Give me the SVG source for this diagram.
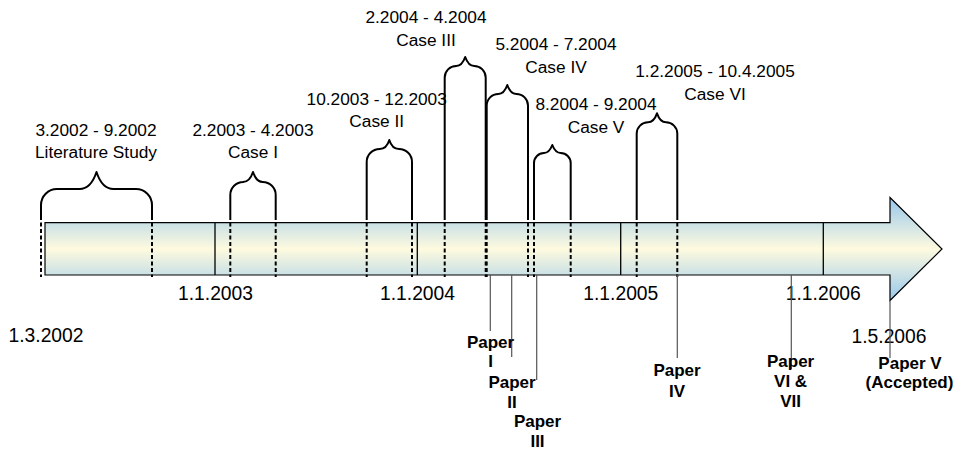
<svg xmlns="http://www.w3.org/2000/svg" width="958" height="449" viewBox="0 0 958 449">
  <defs>
    <linearGradient id="axisFill" x1="0" y1="0" x2="0" y2="1">
      <stop offset="0" stop-color="#98c8ec"/>
      <stop offset="0.5" stop-color="#fefadf"/>
      <stop offset="1" stop-color="#98c8ec"/>
    </linearGradient>
  </defs>
  <style>
    .label { font-family: "Liberation Sans", Arial, sans-serif; font-size: 17.3px; fill: #000; text-anchor: middle; }
    .date { font-family: "Liberation Sans", Arial, sans-serif; font-size: 19.3px; fill: #000; text-anchor: middle; }
    .paper { font-family: "Liberation Sans", Arial, sans-serif; font-size: 17px; font-weight: bold; fill: #000; text-anchor: middle; }
    .brace { fill: none; stroke: #000; stroke-width: 2; stroke-linejoin: round; }
    .span { stroke: #000; stroke-width: 2; stroke-dasharray: 4 2.5; }
    .year { stroke: #000; stroke-width: 1.3; }
    .leader { stroke: #555; stroke-width: 1.2; }
  </style>

  <!-- time axis: block arrow -->
  <g id="axis">
    <path d="M45,222.7 H890 V197.5 L942,249 L890,300.5 V275 H45 Z" fill="url(#axisFill)" stroke="#000" stroke-width="1.2" stroke-linejoin="miter"/>
  </g>

  <!-- year boundaries -->
  <g id="year-2003">
    <line class="year" x1="215" y1="222.7" x2="215" y2="275"/>
    <text class="date" x="215.5" y="300">1.1.2003</text>
  </g>
  <g id="year-2004">
    <line class="year" x1="417.3" y1="222.7" x2="417.3" y2="275"/>
    <text class="date" x="417.5" y="300">1.1.2004</text>
  </g>
  <g id="year-2005">
    <line class="year" x1="620.7" y1="222.7" x2="620.7" y2="275"/>
    <text class="date" x="620.8" y="300">1.1.2005</text>
  </g>
  <g id="year-2006">
    <line class="year" x1="823.3" y1="222.7" x2="823.3" y2="275"/>
    <text class="date" x="823.3" y="300">1.1.2006</text>
  </g>
  <g id="start-date">
    <text class="date" x="46" y="342">1.3.2002</text>
  </g>
  <g id="end-date">
    <text class="date" x="889" y="343">1.5.2006</text>
  </g>

  <!-- study periods: brace over the axis, dashed limits through it -->
  <g id="literature-study">
    <path class="brace" d="M41,216 V205 A16,16 0 0 1 57,189 H79.5 C88.9,189 94,179.6 96.5,172 C99,179.6 104.1,189 113.5,189 H136 A16,16 0 0 1 152,205 V216"/>
    <line class="span" x1="41" y1="216" x2="41" y2="277"/>
    <line class="span" x1="152" y1="216" x2="152" y2="277"/>
    <text class="label" x="96" y="136">3.2002 - 9.2002</text>
    <text class="label" x="96" y="158.3">Literature Study</text>
  </g>

  <g id="case-1">
    <path class="brace" d="M230.3,216 V195 A13,13 0 0 1 243.3,182 H243 C248.5,182 251.5,176.5 253,172 C254.5,176.5 257.5,182 262.7,182 A13,13 0 0 1 275.7,195 V216"/>
    <line class="span" x1="230.3" y1="216" x2="230.3" y2="277"/>
    <line class="span" x1="275.7" y1="216" x2="275.7" y2="277"/>
    <text class="label" x="253" y="136">2.2003 - 4.2003</text>
    <text class="label" x="253" y="158.3">Case I</text>
  </g>

  <g id="case-2">
    <path class="brace" d="M366.7,216 V162 A13,13 0 0 1 379.7,149 C385,149 388,144.3 389.3,140 C390.6,144.3 393.6,149 399,149 A13,13 0 0 1 412,162 V216"/>
    <line class="span" x1="366.7" y1="216" x2="366.7" y2="277"/>
    <line class="span" x1="412" y1="216" x2="412" y2="277"/>
    <text class="label" x="376.7" y="105.3">10.2003 - 12.2003</text>
    <text class="label" x="376.7" y="127.3">Case II</text>
  </g>

  <g id="case-3">
    <path class="brace" d="M444.7,216 V77.5 A11.5,11.5 0 0 1 456.2,66 C461,66 463.8,61 465.2,57 C466.6,61 469.4,66 474.2,66 A11.5,11.5 0 0 1 485.7,77.5 V216"/>
    <line class="span" x1="444.7" y1="216" x2="444.7" y2="277"/>
    <line class="span" x1="485.7" y1="216" x2="485.7" y2="277"/>
    <text class="label" x="426" y="23.3">2.2004 - 4.2004</text>
    <text class="label" x="426" y="45.7">Case III</text>
  </g>

  <g id="case-4">
    <path class="brace" d="M486.7,216 V105.6 A11.6,11.6 0 0 1 498.3,94 C503.1,94 505.9,89 507.3,85 C508.7,89 511.5,94 516.4,94 A11.6,11.6 0 0 1 528,105.6 V216"/>
    <line class="span" x1="486.7" y1="216" x2="486.7" y2="277"/>
    <line class="span" x1="528" y1="216" x2="528" y2="277"/>
    <text class="label" x="556" y="50">5.2004 - 7.2004</text>
    <text class="label" x="556" y="73.3">Case IV</text>
  </g>

  <g id="case-5">
    <path class="brace" d="M534,216 V163 A10,10 0 0 1 544,153 C548.3,153 550.9,148.6 552.3,145 C553.7,148.6 556.3,153 560.7,153 A10,10 0 0 1 570.7,163 V216"/>
    <line class="span" x1="534" y1="216" x2="534" y2="277"/>
    <line class="span" x1="570.7" y1="216" x2="570.7" y2="277"/>
    <text class="label" x="596" y="110">8.2004 - 9.2004</text>
    <text class="label" x="596" y="132.7">Case V</text>
  </g>

  <g id="case-6">
    <path class="brace" d="M636.7,216 V133.6 A11.3,11.3 0 0 1 648,122.3 C652.8,122.3 655.6,117.3 657,113.3 C658.4,117.3 661.2,122.3 666,122.3 A11.3,11.3 0 0 1 677.3,133.6 V216"/>
    <line class="span" x1="636.7" y1="216" x2="636.7" y2="277"/>
    <line class="span" x1="677.3" y1="216" x2="677.3" y2="277"/>
    <text class="label" x="715" y="77.3">1.2.2005 - 10.4.2005</text>
    <text class="label" x="715" y="100">Case VI</text>
  </g>

  <!-- publication leader lines -->
  <g id="connectors">
    <line class="leader" x1="490.3" y1="275" x2="490.3" y2="331"/>
    <line class="leader" x1="511.7" y1="275" x2="511.7" y2="357"/>
    <line class="leader" x1="536.7" y1="275" x2="536.7" y2="380"/>
    <line class="leader" x1="677.3" y1="275" x2="677.3" y2="358"/>
    <line class="leader" x1="791.3" y1="275" x2="791.3" y2="369"/>
    <line class="leader" x1="890" y1="300.5" x2="890" y2="358"/>
  </g>

  <!-- publications -->
  <g id="paper-1">
    <text class="paper" x="490.5" y="347.5">Paper</text>
    <text class="paper" x="490.5" y="367">I</text>
  </g>
  <g id="paper-2">
    <text class="paper" x="512" y="388.3">Paper</text>
    <text class="paper" x="512" y="408.3">II</text>
  </g>
  <g id="paper-3">
    <text class="paper" x="537.5" y="427.3">Paper</text>
    <text class="paper" x="537.5" y="446.7">III</text>
  </g>
  <g id="paper-4">
    <text class="paper" x="677" y="376">Paper</text>
    <text class="paper" x="677" y="396.7">IV</text>
  </g>
  <g id="paper-6-7">
    <text class="paper" x="790.6" y="366.7">Paper</text>
    <text class="paper" x="790.6" y="386.7">VI &amp;</text>
    <text class="paper" x="790.6" y="406.7">VII</text>
  </g>
  <g id="paper-5">
    <text class="paper" x="910" y="369.3">Paper V</text>
    <text class="paper" x="909.5" y="388">(Accepted)</text>
  </g>
</svg>
